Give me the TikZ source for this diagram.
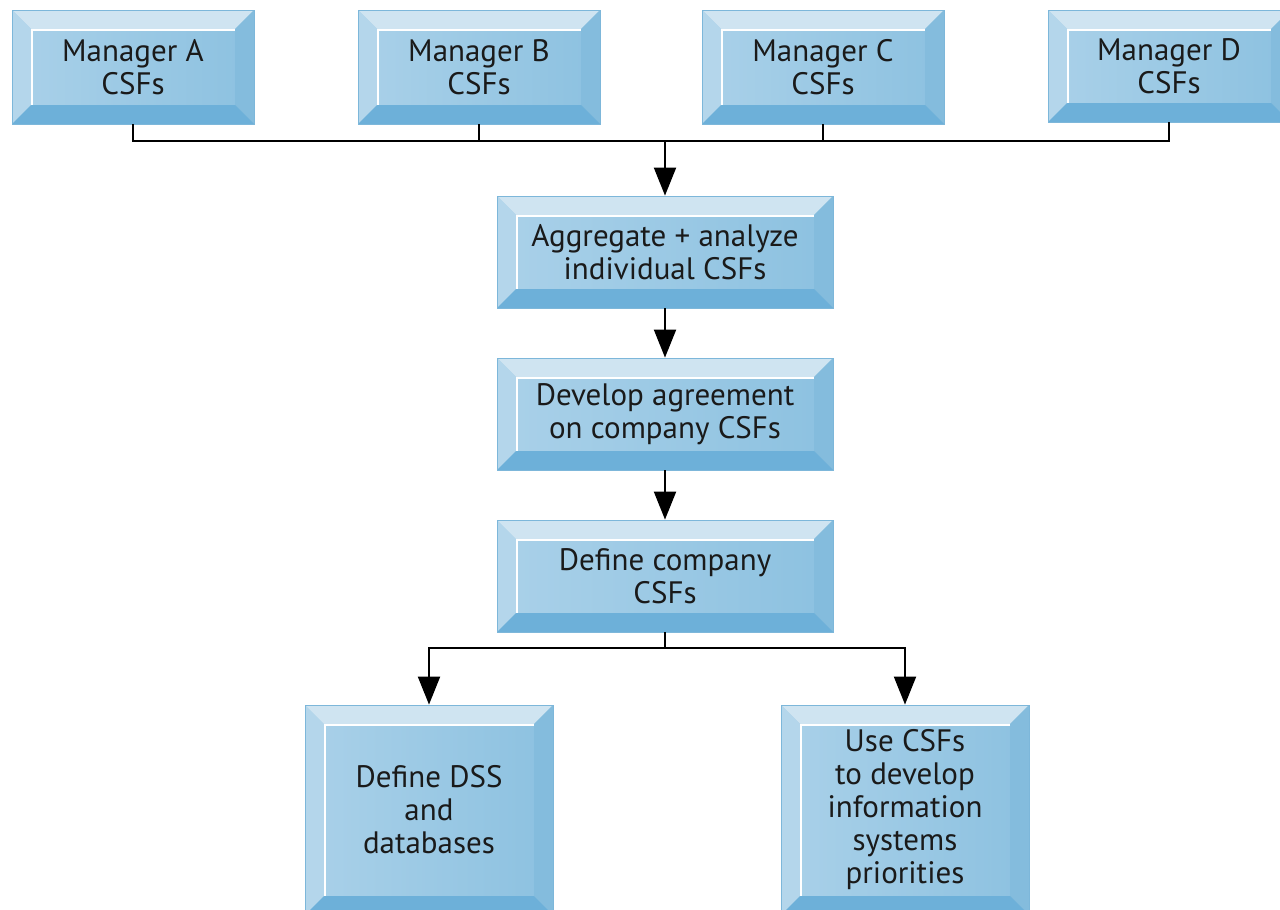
\documentclass[tikz,border=0pt]{standalone}
\usepackage{fontspec}
\setmainfont{PT Sans}
\usetikzlibrary{arrows.meta,calc}
\definecolor{faceL}{HTML}{AAD1E9}
\definecolor{faceR}{HTML}{8CC1E0}
\definecolor{bevT}{HTML}{CFE4F1}
\definecolor{bevL}{HTML}{B4D6EB}
\definecolor{bevR}{HTML}{84BCDD}
\definecolor{bevB}{HTML}{6DB0D9}
\definecolor{outl}{HTML}{7DB7DA}
\definecolor{txt}{HTML}{1A1A1A}
\tikzset{
  bevelbox/.style={draw=outl, line width=0.8pt, left color=faceL, right color=faceR,
    inner sep=0pt, align=center, text=txt,
    font=\fontsize{31}{33}\selectfont,
    path picture={
      \coordinate (pnw) at (path picture bounding box.north west);
      \coordinate (pne) at (path picture bounding box.north east);
      \coordinate (pse) at (path picture bounding box.south east);
      \coordinate (psw) at (path picture bounding box.south west);
      \coordinate (inw) at ([xshift=19pt,yshift=-19pt]pnw);
      \coordinate (ine) at ([xshift=-19pt,yshift=-19pt]pne);
      \coordinate (ise) at ([xshift=-19pt,yshift=19pt]pse);
      \coordinate (isw) at ([xshift=19pt,yshift=19pt]psw);
      \fill[bevT] (pnw) -- (pne) -- (ine) -- (inw) -- cycle;
      \fill[bevL] (pnw) -- (inw) -- (isw) -- (psw) -- cycle;
      \fill[bevR] (pne) -- (pse) -- (ise) -- (ine) -- cycle;
      \fill[bevB] (psw) -- (isw) -- (ise) -- (pse) -- cycle;
      \draw[white, line width=1.6pt] ([xshift=1pt]isw) -- ([xshift=1pt,yshift=-1pt]inw) -- ([yshift=-1pt]ine);
    }},
  conn/.style={line width=2pt, black},
  arr/.style={conn, -{Triangle[width=22pt,length=28pt]}}
}
\begin{document}
\begin{tikzpicture}[x=1pt,y=-1pt]
\clip (0,0) rectangle (1280,910);
\fill[white] (0,0) rectangle (1280,910);
\node[bevelbox, minimum width=242pt, minimum height=114pt] (mA) at (133,67) {Manager A\\CSFs};
\node[bevelbox, minimum width=242pt, minimum height=114pt] (mB) at (479,67) {Manager B\\CSFs};
\node[bevelbox, minimum width=242pt, minimum height=114pt] (mC) at (823,67) {Manager C\\CSFs};
\node[bevelbox, minimum width=242pt, minimum height=112pt] (mD) at (1169,66) {Manager D\\CSFs};
\node[bevelbox, minimum width=336pt, minimum height=112pt] (agg) at (665,252) {Aggregate + analyze\\individual CSFs};
\node[bevelbox, minimum width=336pt, minimum height=112pt] (dev) at (665,414) {Develop agreement\\on company CSFs};
\node[bevelbox, minimum width=336pt, minimum height=112pt] (def) at (665,576) {Define company\\CSFs};
\node[bevelbox, minimum width=248pt, minimum height=210pt] (dss) at (429,810) {Define DSS\\and\\databases};
\node[bevelbox, minimum width=248pt, minimum height=210pt] (use) at (905,810) {Use CSFs\\to develop\\information\\systems\\priorities};
\coordinate (j) at (664,141);
\coordinate (k) at (664,648);
\draw[conn] (mA.south) |- (mD.south |- j) -- (mD.south);
\draw[conn] (mB.south) -- (mB.south |- j);
\draw[conn] (mC.south) -- (mC.south |- j);
\draw[arr] (agg.north |- j) -- (agg.north);
\draw[arr] (agg.south) -- (dev.north);
\draw[arr] (dev.south) -- (def.north);
\draw[conn] (def.south) -- (def.south |- k);
\draw[arr] (def.south |- k) -| (dss.north);
\draw[arr] (def.south |- k) -| (use.north);
\end{tikzpicture}
\end{document}
